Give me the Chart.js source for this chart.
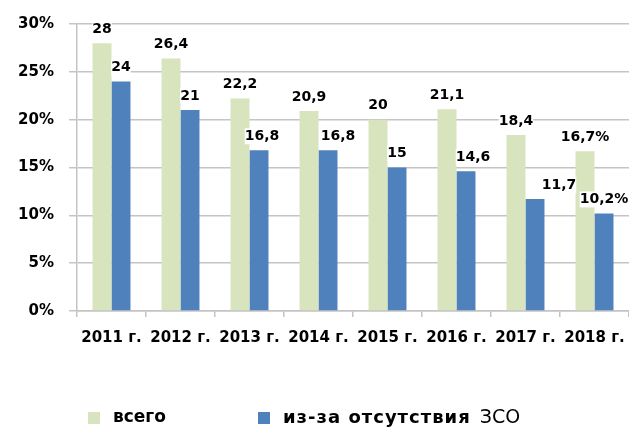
<!DOCTYPE html>
<html>
<head>
<meta charset="utf-8">
<script src="https://cdn.jsdelivr.net/npm/chart.js@4/dist/chart.umd.min.js"></script>
<style>
  html, body { margin: 0; padding: 0; background: #fff; }
  #wrap { width: 629px; height: 427px; }
</style>
</head>
<body>
<div id="wrap"><canvas id="myChart" width="629" height="427"></canvas></div>
<script>
const years = ['2011 г.', '2012 г.', '2013 г.', '2014 г.', '2015 г.', '2016 г.', '2017 г.', '2018 г.'];
const total = [28, 26.4, 22.2, 20.9, 20, 21.1, 18.4, 16.7];
const noZso = [24, 21, 16.8, 16.8, 15, 14.6, 11.7, 10.2];
const yTicks = [0, 5, 10, 15, 20, 25, 30];

const FONT = "'DejaVu Sans', sans-serif";
const gridColor = '#c4c4c4';

// value labels above each bar, last year written with a percent sign
const barLabels = {
    id: 'barLabels',
    afterDatasetsDraw(chart, args, opts) {
        const ctx = chart.ctx;
        const shift = opts.shift || {};
        ctx.save();
        ctx.font = 'bold 14px ' + FONT;
        ctx.textAlign = 'center';
        ctx.textBaseline = 'middle';
        chart.data.datasets.forEach((ds, i) => {
            const dx = shift[i] || [];
            chart.getDatasetMeta(i).data.forEach((bar, j) => {
                let txt = String(ds.data[j]).replace('.', ',');
                if (j === ds.data.length - 1) txt += '%';
                const w = ctx.measureText(txt).width;
                const x = bar.x + (dx[j] || 0);
                const y = bar.y - 14;
                ctx.fillStyle = '#fff';
                ctx.fillRect(x - w / 2, y - 8, w, 16);
                ctx.fillStyle = '#000';
                ctx.fillText(txt, x, y);
            });
        });
        ctx.restore();
    }
};

// legend row under the axis; an upper-case abbreviation at the end is set in a plain face
const bottomLegend = {
    id: 'bottomLegend',
    afterDraw(chart) {
        const ctx = chart.ctx;
        const xs = [88, 258];
        const y = 418;
        ctx.save();
        ctx.textBaseline = 'middle';
        chart.data.datasets.forEach((ds, i) => {
            ctx.fillStyle = ds.backgroundColor;
            ctx.fillRect(xs[i], y - 6, 12, 12);
            ctx.fillStyle = '#000';
            const m = ds.label.match(/^(.*?)\s+([А-ЯЁ]{2,})$/);
            let x = xs[i] + 25;
            if (m) {
                ctx.font = 'bold 18px ' + FONT;
                ctx.letterSpacing = '1px';
                ctx.fillText(m[1], x, y);
                x += ctx.measureText(m[1]).width + 9;
                ctx.letterSpacing = '0px';
                ctx.font = '19px ' + FONT;
                ctx.fillText(m[2], x, y);
            } else {
                ctx.font = 'bold 17px ' + FONT;
                ctx.fillText(ds.label, x, y);
            }
        });
        ctx.restore();
    }
};

var ctx = document.getElementById('myChart').getContext('2d');
var chart = new Chart(ctx, {
    type: 'bar',
    data: {
        labels: years,
        datasets: [{
            label: 'всего',
            backgroundColor: '#d7e4bd',
            data: total
        }, {
            label: 'из-за отсутствия ЗСО',
            backgroundColor: '#4f81bd',
            data: noZso
        }]
    },
    options: {
        responsive: false,
        animation: false,
        layout: { padding: { top: 24, right: 0, left: 0, bottom: 0 } },
        datasets: {
            bar: { categoryPercentage: 0.55, barPercentage: 1.0 }
        },
        plugins: {
            legend: { display: false },
            tooltip: { enabled: false },
            barLabels: { shift: { 1: [0, 0, 3, 10, 0, 7, 24, 0] } }
        },
        scales: {
            x: {
                grid: { display: true, drawOnChartArea: false, tickLength: 6, color: gridColor, lineWidth: 1.5 },
                border: { color: gridColor, width: 1.5 },
                ticks: { color: '#000', font: { family: FONT, size: 15, weight: 'bold' }, padding: 12, maxRotation: 0, autoSkip: false },
                afterFit(scale) {
                    scale.height = 116;
                    scale.paddingLeft = 0;
                    scale.paddingRight = 0;
                }
            },
            y: {
                min: 0,
                max: 30,
                afterBuildTicks(scale) { scale.ticks = yTicks.map(v => ({ value: v })); },
                grid: { color: gridColor, lineWidth: 1.5, tickLength: 8 },
                border: { color: gridColor, width: 1.5 },
                ticks: {
                    color: '#000',
                    padding: 15,
                    font: { family: FONT, size: 15, weight: 'bold' },
                    callback: v => v + '%'
                },
                afterFit(scale) { scale.width = 77; }
            }
        }
    },
    plugins: [barLabels, bottomLegend]
});
</script>
</body>
</html>
